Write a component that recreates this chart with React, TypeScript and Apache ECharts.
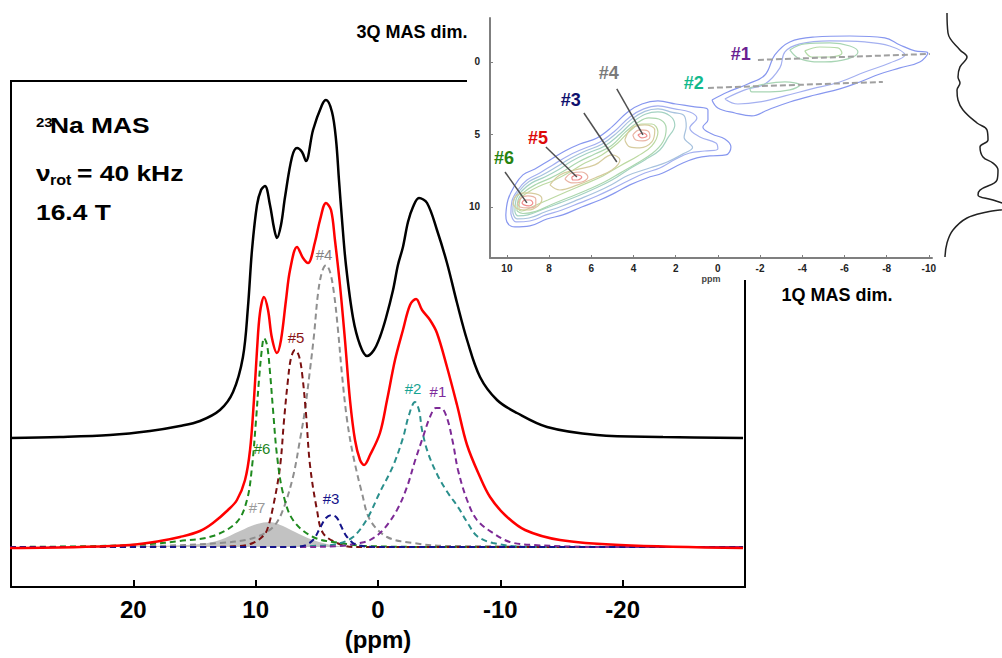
import { useEffect, useRef } from "react";
import * as echarts from "echarts";

// ---------- main 1D spectrum (x: ppm, y: intensity in arbitrary units) ----------
const EXPERIMENTAL = [
  [30.08, 149], [26.0, 150], [21.91, 152], [18.64, 156], [16.19, 161], [14.55, 166], [12.92, 177],
  [11.85, 195], [11.04, 230], [10.63, 280], [10.3, 337], [9.89, 382], [9.56, 397], [9.24, 401],
  [8.83, 382], [8.5, 359], [8.26, 349], [7.93, 362], [7.6, 390], [7.03, 430], [6.62, 439],
  [6.21, 435], [5.89, 426], [5.31, 457], [4.58, 482], [4.25, 487], [3.76, 475], [3.43, 447],
  [3.19, 407], [2.94, 367], [2.62, 322], [2.04, 269], [1.47, 242], [0.9, 231], [0.33, 237],
  [-0.16, 250], [-0.65, 269], [-1.23, 297], [-1.63, 322], [-2.04, 340], [-2.45, 365], [-2.86, 380],
  [-3.35, 389], [-4.01, 384], [-4.82, 357], [-5.64, 324], [-6.46, 284], [-7.28, 247], [-8.34, 210],
  [-9.73, 187], [-11.36, 174], [-13.82, 160], [-17.9, 152], [-23.3, 150], [-29.84, 149],
];

const FIT_SUM = [
  [30.08, 39], [24.36, 40], [20.27, 42], [17.82, 46], [16.19, 50], [14.55, 56], [13.49, 64],
  [12.26, 77], [11.53, 87], [10.87, 107], [10.46, 137], [10.14, 187], [9.89, 237], [9.65, 274],
  [9.32, 290], [8.99, 277], [8.67, 249], [8.26, 234], [7.93, 247], [7.52, 287], [7.19, 317],
  [6.62, 340], [6.13, 329], [5.72, 324], [5.15, 345], [4.74, 367], [4.25, 384], [3.84, 377],
  [3.52, 347], [3.11, 302], [2.7, 247], [2.29, 187], [1.88, 147], [1.47, 127], [1.14, 122],
  [0.65, 132], [-0.16, 154], [-0.74, 187], [-1.39, 227], [-2.04, 257], [-2.62, 282], [-3.11, 288],
  [-3.6, 277], [-4.25, 267], [-4.82, 254], [-5.64, 220], [-6.46, 182], [-7.28, 142], [-8.34, 110],
  [-9.16, 90], [-10.38, 72], [-12.02, 57], [-14.88, 47], [-19.78, 42], [-29.84, 39],
];

const SITE6 = [
  [30.08, 40], [22.73, 41], [18.64, 43], [16.19, 46], [13.49, 51], [11.53, 65], [10.71, 87],
  [10.3, 120], [9.97, 167], [9.73, 207], [9.48, 239], [9.32, 249], [9.07, 242], [8.83, 215],
  [8.58, 177], [8.26, 132], [7.77, 94], [6.95, 67], [5.31, 50], [3.11, 44], [0.9, 41], [-5.9, 40],
  [-29.84, 40],
];

const SITE5 = [
  [30.08, 40], [14.55, 40], [11.28, 41], [10.22, 44], [9.48, 50], [9.07, 57], [8.58, 80],
  [8.01, 120], [7.68, 167], [7.36, 207], [7.11, 229], [6.78, 237], [6.46, 231], [6.21, 214],
  [5.89, 174], [5.56, 122], [4.99, 77], [4.5, 54], [3.35, 44], [2.04, 40], [-29.84, 40],
];

const SITE4 = [
  [30.08, 40], [18.64, 41], [12.92, 44], [10.46, 48], [9.24, 54], [8.42, 62], [7.77, 77],
  [6.95, 110], [6.38, 147], [5.97, 177], [5.56, 217], [5.23, 252], [4.9, 294], [4.58, 315],
  [4.25, 322], [3.92, 315], [3.6, 294], [3.27, 257], [2.94, 212], [2.53, 167], [2.04, 132],
  [1.31, 94], [0.65, 67], [-0.74, 50], [-2.86, 44], [-5.64, 41], [-29.84, 40],
];

const SITE3 = [
  [30.08, 40], [7.19, 40], [6.13, 41], [5.31, 47], [4.74, 59], [4.25, 69], [3.76, 72],
  [3.35, 69], [3.02, 61], [2.53, 50], [1.72, 42], [-0.16, 40], [-29.84, 40],
];

const SITE2 = [
  [30.08, 40], [8.01, 40], [5.31, 41], [3.35, 43], [2.04, 50], [0.9, 68], [-0.16, 95],
  [-1.23, 121], [-2.04, 149], [-2.53, 172], [-3.02, 185], [-3.35, 177], [-3.6, 157], [-4.09, 134],
  [-4.9, 111], [-5.72, 94], [-6.54, 80], [-7.28, 65], [-8.09, 51], [-9.4, 44], [-12.18, 40],
  [-29.84, 40],
];

const SITE1 = [
  [30.08, 40], [6.38, 40], [3.11, 41], [1.47, 44], [0.65, 47], [-0.41, 57], [-1.55, 77],
  [-2.37, 100], [-3.02, 126], [-3.68, 150], [-4.25, 170], [-4.74, 179], [-5.15, 179], [-5.64, 169],
  [-6.13, 144], [-6.54, 117], [-7.28, 87], [-8.09, 67], [-9.4, 54], [-10.79, 45], [-12.67, 42],
  [-18.15, 40], [-29.84, 40],
];

const SITE7 = [
  [30.08, 40], [18.64, 41], [14.55, 43], [12.92, 47], [11.28, 56], [9.89, 63], [8.83, 65],
  [7.77, 61], [6.78, 55], [5.31, 47], [3.35, 41], [1.47, 40], [-29.84, 40],
];

const MAIN_LABELS = [
  { name: "#6", value: [9.48, 139], color: "#1f861f" },
  { name: "#5", value: [6.7, 250], color: "#8b1515" },
  { name: "#4", value: [4.41, 333], color: "#858585" },
  { name: "#3", value: [3.84, 89], color: "#14148a" },
  { name: "#2", value: [-2.86, 199], color: "#17a493" },
  { name: "#1", value: [-4.9, 196], color: "#7e2c9c" },
  { name: "#7", value: [9.89, 80], color: "#9a9a9a" },
];

// ---------- inset: 2D 3QMAS contours (x: 1Q ppm, y: 3Q ppm) ----------
const INSET_X_TICKS = [10, 8, 6, 4, 2, 0, -2, -4, -6, -8, -10];
const INSET_Y_TICKS = [0, 5, 10];

const C_L1 = [
  [10.05, 10.55], [9.95, 9.52], [9.67, 8.62], [9.24, 7.79], [8.67, 7.38], [7.96, 6.76], [7.25, 6.14],
  [6.54, 5.66], [5.73, 5.24], [5.02, 4.48], [4.27, 3.45], [3.6, 2.9], [2.84, 2.69], [1.99, 2.9],
  [1.09, 3.1], [0.47, 3.31], [0.47, 4.0], [0.71, 4.48], [0.28, 4.97], [-0.33, 5.31], [-0.62, 5.86],
  [-0.38, 6.41], [0.38, 6.48], [0.995, 6.62], [1.66, 6.97], [2.61, 7.66], [3.36, 8.0], [4.17, 8.48],
  [4.88, 9.03], [5.59, 9.52], [6.45, 10.0], [7.35, 10.55], [8.1, 10.83], [8.91, 11.31], [9.62, 11.38],
  [10.0, 11.03], [10.05, 10.55],
];
const C_L2 = [
  [9.81, 10.48], [9.76, 9.59], [9.48, 8.83], [9.05, 8.14], [8.44, 7.66], [7.82, 7.1], [7.11, 6.48],
  [6.4, 6.0], [5.59, 5.52], [4.88, 4.76], [4.17, 3.79], [3.51, 3.24], [2.84, 3.03], [2.04, 3.24],
  [1.33, 3.45], [0.995, 3.86], [1.33, 4.55], [0.85, 5.17], [0.09, 5.59], [0, 6.0], [0.62, 6.14],
  [1.33, 6.28], [1.99, 6.69], [2.75, 7.31], [3.46, 7.66], [4.27, 8.21], [5.02, 8.76], [5.73, 9.24],
  [6.54, 9.72], [7.39, 10.21], [8.15, 10.55], [8.91, 10.97], [9.57, 11.03], [9.81, 10.48],
];
const C_L2B = [
  [9.72, 10.4], [9.67, 9.55], [9.4, 8.87], [8.95, 8.25], [8.32, 7.8], [7.7, 7.28], [7.0, 6.66],
  [6.28, 6.14], [5.48, 5.66], [4.76, 4.86], [4.1, 3.96], [3.46, 3.41], [2.84, 3.24], [2.15, 3.48],
  [1.6, 3.7], [1.5, 4.45], [1.6, 5.2], [1.2, 5.9], [1.6, 6.3], [2.4, 6.9], [3.2, 7.3], [4.27, 7.83],
  [5.02, 8.45], [5.76, 8.97], [6.6, 9.48], [7.44, 9.97], [8.2, 10.35], [8.95, 10.76], [9.52, 10.82],
  [9.72, 10.4],
];
const C_L3 = [
  [9.62, 10.34], [9.57, 9.52], [9.29, 8.9], [8.82, 8.34], [8.2, 7.93], [7.58, 7.45], [6.92, 6.83],
  [6.16, 6.28], [5.36, 5.79], [4.64, 4.97], [4.03, 4.14], [3.41, 3.59], [2.84, 3.45], [2.27, 3.72],
  [2.04, 4.34], [2.37, 5.24], [2.75, 6.07], [3.46, 6.76], [4.27, 7.45], [5.02, 8.14], [5.78, 8.69],
  [6.64, 9.24], [7.49, 9.72], [8.25, 10.14], [9.0, 10.55], [9.48, 10.62], [9.62, 10.34],
];
const C_L3B = [
  [9.52, 10.28], [9.47, 9.52], [9.17, 8.96], [8.63, 8.45], [7.96, 8.03], [7.3, 7.52], [6.61, 6.9],
  [5.83, 6.35], [5.05, 5.78], [4.4, 4.86], [3.82, 4.2], [3.27, 3.86], [2.7, 4.0], [2.45, 4.6],
  [2.6, 5.5], [3.1, 6.3], [3.85, 7.0], [4.62, 7.65], [5.4, 8.3], [6.2, 8.83], [7.07, 9.35],
  [7.88, 9.83], [8.62, 10.3], [9.24, 10.45], [9.52, 10.28],
];
const C_L4 = [
  [9.43, 10.21], [9.38, 9.52], [9.05, 9.03], [8.44, 8.55], [7.73, 8.14], [7.01, 7.59], [6.3, 6.97],
  [5.5, 6.41], [4.74, 5.59], [4.17, 4.76], [3.6, 4.28], [3.13, 4.28], [2.84, 4.83], [3.13, 5.79],
  [3.79, 6.48], [4.64, 7.17], [5.45, 7.86], [6.3, 8.41], [7.2, 8.97], [8.06, 9.52], [8.82, 10.0],
  [9.29, 10.28], [9.43, 10.21],
];
const C_L5A = [
  [9.72, 9.79], [9.57, 9.24], [9.15, 9.03], [8.63, 9.1], [8.34, 9.45], [8.53, 9.93], [9.0, 10.21],
  [9.48, 10.14], [9.72, 9.79],
];
const C_L5B = [
  [7.96, 8.48], [7.49, 7.79], [6.78, 7.45], [5.83, 7.1], [5.02, 6.41], [4.64, 6.76], [5.02, 7.45],
  [5.83, 8.0], [6.64, 8.48], [7.49, 8.83], [7.96, 8.48],
];
const C_L5C = [
  [4.41, 5.38], [4.08, 4.55], [3.46, 4.34], [2.99, 4.69], [3.13, 5.52], [3.7, 5.93], [4.17, 5.86],
  [4.41, 5.38],
];
const C_L6A = [
  [9.48, 9.79], [9.34, 9.38], [9.0, 9.24], [8.63, 9.45], [8.63, 9.86], [9.0, 10.07], [9.38, 10.0],
  [9.48, 9.79],
];
const C_L6B = [
  [7.25, 8.07], [6.92, 7.66], [6.45, 7.59], [6.16, 7.93], [6.45, 8.28], [6.92, 8.34], [7.25, 8.07],
];
const C_L6C = [
  [4.03, 5.03], [3.7, 4.69], [3.32, 4.76], [3.22, 5.17], [3.55, 5.45], [3.89, 5.38], [4.03, 5.03],
];
const C_L7A = [
  [9.29, 9.72], [9.15, 9.52], [8.91, 9.52], [8.77, 9.72], [8.96, 9.93], [9.19, 9.86], [9.29, 9.72],
];
const C_L7B = [[6.92, 7.93], [6.68, 7.79], [6.45, 7.93], [6.64, 8.14], [6.87, 8.14], [6.92, 7.93]];
const C_L7C = [[3.79, 5.03], [3.55, 4.9], [3.36, 5.1], [3.6, 5.24], [3.79, 5.03]];

const C_B1 = [
  [0.28, 2.62], [-0.47, 2.07], [-1.42, 1.52], [-2.23, 0.9], [-2.7, -0.48], [-3.41, -1.38],
  [-4.6, -1.72], [-6.26, -1.79], [-7.91, -1.66], [-8.63, -1.17], [-9.34, -0.76], [-9.95, -0.62],
  [-9.57, 0], [-8.63, 0.41], [-7.68, 0.83], [-6.73, 1.38], [-5.78, 1.86], [-4.6, 2.28],
  [-3.41, 2.76], [-2.37, 3.31], [-1.61, 3.72], [-0.81, 3.52], [0, 3.17], [0.28, 2.62],
];
const C_B2 = [
  [-0.33, 2.55], [-1.28, 1.93], [-2.23, 1.52], [-2.94, 0.41], [-3.18, -0.69], [-3.89, -1.24],
  [-5.31, -1.45], [-6.97, -1.38], [-8.15, -1.1], [-8.86, -0.48], [-8.15, 0.07], [-6.97, 0.69],
  [-5.78, 1.38], [-4.45, 1.86], [-3.18, 2.34], [-1.99, 2.76], [-0.95, 2.9], [-0.33, 2.55],
];
const C_B3 = [
  [-3.41, -0.83], [-4.12, -1.24], [-5.31, -1.31], [-6.26, -1.1], [-6.64, -0.69], [-6.16, -0.21],
  [-5.07, 0], [-3.89, -0.21], [-3.41, -0.83],
];
const C_B4 = [
  [-1.52, 1.79], [-2.23, 1.52], [-3.18, 1.38], [-3.89, 1.59], [-3.41, 1.93], [-2.46, 2.07],
  [-1.61, 2.07], [-1.52, 1.79],
];
const C_B5 = [
  [-4.12, -0.76], [-4.83, -1.03], [-5.69, -0.97], [-5.88, -0.62], [-5.31, -0.34], [-4.45, -0.34],
  [-4.12, -0.76],
];

const CONTOURS = [
  { pts: C_L1, color: "#8797ef" },
  { pts: C_L2, color: "#a4b0f0" },
  { pts: C_B1, color: "#8797ef" },
  { pts: C_B2, color: "#a4b0f0" },
  { pts: C_L2B, color: "#a7c2de" },
  { pts: C_L3, color: "#a4d2c2" },
  { pts: C_L3B, color: "#abd7ae" },
  { pts: C_L4, color: "#bcd9a2" },
  { pts: C_B3, color: "#a8d5b4" },
  { pts: C_B4, color: "#a8d5b4" },
  { pts: C_B5, color: "#b3dba6" },
  { pts: C_L5A, color: "#d6cc9e" },
  { pts: C_L5B, color: "#d6cc9e" },
  { pts: C_L5C, color: "#d6cc9e" },
  { pts: C_L6A, color: "#e9b3a3" },
  { pts: C_L6B, color: "#e9b3a3" },
  { pts: C_L6C, color: "#e9b3a3" },
  { pts: C_L7A, color: "#ef8c8c" },
  { pts: C_L7B, color: "#ef8c8c" },
  { pts: C_L7C, color: "#ef8c8c" },
];

const DASH_SITE1 = [[-1.9, -0.14], [-10.05, -0.55]];
const DASH_SITE2 = [[0.47, 1.79], [-7.82, 1.38]];
const POINTERS = [
  [[4.79, 1.86], [3.55, 5.03]],
  [[6.35, 3.52], [4.79, 6.9]],
  [[8.15, 5.86], [6.68, 7.93]],
  [[10.09, 7.59], [9.05, 9.72]],
];
const INSET_LABELS = [
  { name: "#1", value: [-1.09, -0.55], color: "#6a1f92" },
  { name: "#2", value: [1.14, 1.45], color: "#12b98c" },
  { name: "#3", value: [6.97, 2.62], color: "#10106e" },
  { name: "#4", value: [5.17, 0.76], color: "#7a7a7a" },
  { name: "#5", value: [8.53, 5.24], color: "#dd0a0a" },
  { name: "#6", value: [10.14, 6.62], color: "#27830f" },
];

// F1 (3Q) projection: [intensity, 3Q ppm]
const PROJECTION = [
  [2, -3.38], [3, -2.0], [15, -0.83], [22, -0.34], [15, 0.34], [13, 1.03], [15, 1.45], [12, 1.93],
  [13, 2.62], [18, 3.31], [32, 4.21], [42, 4.69], [43, 5.38], [35, 5.86], [38, 6.55], [48, 6.97],
  [53, 7.45], [52, 8.14], [35, 8.83], [33, 9.17], [48, 9.52], [66, 10.0], [42, 10.34], [22, 10.76],
  [8, 11.59], [2, 12.48], [0, 13.45],
];

const FONT = "'Liberation Sans', Arial, Helvetica, sans-serif";

function mainLine(data: number[][], color: string, width: number, dashed: boolean, z: number) {
  return {
    type: "line",
    xAxisIndex: 0,
    yAxisIndex: 0,
    data,
    smooth: 0.35,
    symbol: "none",
    silent: true,
    z,
    lineStyle: { color, width, type: dashed ? [6, 4] : "solid" },
  };
}

function labelSeries(axisIndex: number, items: { name: string; value: number[]; color: string }[], fontSize: number, fontWeight: string) {
  return {
    type: "scatter",
    xAxisIndex: axisIndex,
    yAxisIndex: axisIndex,
    symbolSize: 1,
    silent: true,
    itemStyle: { color: "rgba(0,0,0,0)" },
    z: 6,
    data: items.map((d) => ({
      name: d.name,
      value: d.value,
      label: { color: d.color },
    })),
    label: {
      show: true,
      position: "inside",
      formatter: "{b}",
      fontSize,
      fontWeight,
      fontFamily: FONT,
      textBorderWidth: 0,
      textShadowBlur: 0,
      opacity: 1,
    },
  };
}

export default function App() {
  const ref = useRef<HTMLDivElement>(null);
  useEffect(() => {
    const chart = echarts.init(ref.current!, null, { renderer: "svg" });
    const series: any[] = [
      {
        type: "line",
        xAxisIndex: 0,
        yAxisIndex: 0,
        data: SITE7,
        smooth: 0.35,
        symbol: "none",
        silent: true,
        z: 1,
        lineStyle: { width: 0 },
        areaStyle: { color: "#c2c2c2", origin: 40, opacity: 1 },
      },
      mainLine(SITE4, "#8f8f8f", 2, true, 3),
      mainLine(SITE5, "#7a1010", 2, true, 3),
      mainLine(SITE6, "#1f8a1f", 2, true, 3),
      mainLine(SITE2, "#2a8f8c", 2, true, 3),
      mainLine(SITE1, "#7d2a96", 2, true, 3),
      mainLine(SITE3, "#14148a", 2, true, 4),
      mainLine(FIT_SUM, "#ff0000", 2.5, false, 5),
      mainLine(EXPERIMENTAL, "#000000", 2.5, false, 5),
      labelSeries(0, MAIN_LABELS, 15, "normal"),
      ...CONTOURS.map((c) => ({
        type: "line",
        xAxisIndex: 1,
        yAxisIndex: 1,
        data: c.pts,
        smooth: 0.4,
        symbol: "none",
        silent: true,
        lineStyle: { color: c.color, width: 1.2 },
      })),
      ...[DASH_SITE1, DASH_SITE2].map((d) => ({
        type: "line",
        xAxisIndex: 1,
        yAxisIndex: 1,
        data: d,
        symbol: "none",
        silent: true,
        z: 4,
        lineStyle: { color: "#a0a0a0", width: 2, type: [6, 3] },
      })),
      ...POINTERS.map((d) => ({
        type: "line",
        xAxisIndex: 1,
        yAxisIndex: 1,
        data: d,
        symbol: "none",
        silent: true,
        z: 4,
        lineStyle: { color: "#505050", width: 1.5 },
      })),
      labelSeries(1, INSET_LABELS, 18, "bold"),
      {
        type: "line",
        xAxisIndex: 2,
        yAxisIndex: 2,
        data: PROJECTION,
        smooth: 0.4,
        symbol: "none",
        silent: true,
        lineStyle: { color: "#222", width: 1.5 },
      },
    ];

    chart.setOption({
      animation: false,
      backgroundColor: "#fff",
      grid: [
        { left: 11, right: 257, top: 81, bottom: 71 },
        { left: 490, top: 18, width: 442, height: 240 },
        { left: 945, top: 10, width: 57, height: 250 },
      ],
      xAxis: [
        {
          type: "value",
          gridIndex: 0,
          min: -30,
          max: 30,
          interval: 10,
          inverse: true,
          axisLine: { show: true, onZero: false, lineStyle: { color: "#000", width: 2 } },
          axisTick: { show: true, inside: true, length: 7, lineStyle: { color: "#000", width: 2 } },
          splitLine: { show: false },
          axisLabel: {
            showMinLabel: false,
            showMaxLabel: false,
            margin: 10,
            fontSize: 24,
            fontWeight: "bold",
            color: "#000",
            fontFamily: FONT,
          },
          name: "(ppm)",
          nameLocation: "middle",
          nameGap: 40,
          nameTextStyle: { fontSize: 24, fontWeight: "bold", color: "#000", fontFamily: FONT },
        },
        {
          type: "value",
          gridIndex: 1,
          min: -10.15,
          max: 10.8,
          inverse: true,
          axisLine: { show: true, onZero: false, lineStyle: { color: "#7f7f7f", width: 2 } },
          axisTick: {
            show: true,
            inside: true,
            length: 3,
            customValues: INSET_X_TICKS,
            lineStyle: { color: "#7f7f7f", width: 1 },
          },
          splitLine: { show: false },
          axisLabel: {
            customValues: INSET_X_TICKS,
            margin: 5,
            fontSize: 10,
            fontWeight: "bold",
            color: "#222",
            fontFamily: FONT,
          },
          name: "ppm",
          nameLocation: "middle",
          nameGap: 16,
          nameTextStyle: { fontSize: 9, fontWeight: "bold", color: "#444", fontFamily: FONT },
        },
        { type: "value", gridIndex: 2, min: 0, max: 57, show: false },
      ],
      yAxis: [
        {
          type: "value",
          gridIndex: 0,
          min: 0,
          max: 506,
          axisLine: { show: true, onZero: false, lineStyle: { color: "#000", width: 2 } },
          axisTick: { show: false },
          axisLabel: { show: false },
          splitLine: { show: false },
        },
        {
          type: "value",
          gridIndex: 1,
          min: -3.03,
          max: 13.52,
          inverse: true,
          axisLine: { show: true, onZero: false, lineStyle: { color: "#7f7f7f", width: 2 } },
          axisTick: {
            show: true,
            inside: true,
            length: 3,
            customValues: INSET_Y_TICKS,
            lineStyle: { color: "#7f7f7f", width: 1 },
          },
          splitLine: { show: false },
          axisLabel: {
            customValues: INSET_Y_TICKS,
            margin: 10,
            fontSize: 10,
            fontWeight: "bold",
            color: "#222",
            fontFamily: FONT,
          },
        },
        { type: "value", gridIndex: 2, min: -3.586, max: 13.655, inverse: true, show: false },
      ],
      graphic: [
        { type: "line", shape: { x1: 10, y1: 81, x2: 467, y2: 81 }, style: { stroke: "#000", lineWidth: 2 }, silent: true },
        { type: "line", shape: { x1: 745, y1: 280, x2: 745, y2: 588 }, style: { stroke: "#000", lineWidth: 2 }, silent: true },
        { type: "text", x: 36, y: 122, scaleX: 1.15, style: { text: "23", fontSize: 13, fontWeight: "bold", fill: "#000", fontFamily: FONT, verticalAlign: "middle" } },
        { type: "text", x: 50, y: 125, scaleX: 1.2, style: { text: "Na MAS", fontSize: 22, fontWeight: "bold", fill: "#000", fontFamily: FONT, verticalAlign: "middle" } },
        { type: "text", x: 36, y: 173, scaleX: 1.2, style: { text: "ν", fontSize: 22, fontWeight: "bold", fill: "#000", fontFamily: FONT, verticalAlign: "middle" } },
        { type: "text", x: 50, y: 180, scaleX: 1.15, style: { text: "rot", fontSize: 14, fontWeight: "bold", fill: "#000", fontFamily: FONT, verticalAlign: "middle" } },
        { type: "text", x: 77, y: 173, scaleX: 1.2, style: { text: "= 40 kHz", fontSize: 22, fontWeight: "bold", fill: "#000", fontFamily: FONT, verticalAlign: "middle" } },
        { type: "text", x: 36, y: 212, scaleX: 1.2, style: { text: "16.4 T", fontSize: 22, fontWeight: "bold", fill: "#000", fontFamily: FONT, verticalAlign: "middle" } },
        { type: "text", x: 412, y: 32, style: { text: "3Q MAS dim.", fontSize: 18, fontWeight: "bold", fill: "#000", fontFamily: FONT, align: "center", verticalAlign: "middle" } },
        { type: "text", x: 837, y: 295, style: { text: "1Q MAS dim.", fontSize: 18, fontWeight: "bold", fill: "#000", fontFamily: FONT, align: "center", verticalAlign: "middle" } },
      ],
      series,
    });
    return () => chart.dispose();
  }, []);
  return (
    <div
      ref={ref}
      style={{ position: "fixed", left: 0, top: 0, width: 1002, height: 658, background: "#fff" }}
    />
  );
}
